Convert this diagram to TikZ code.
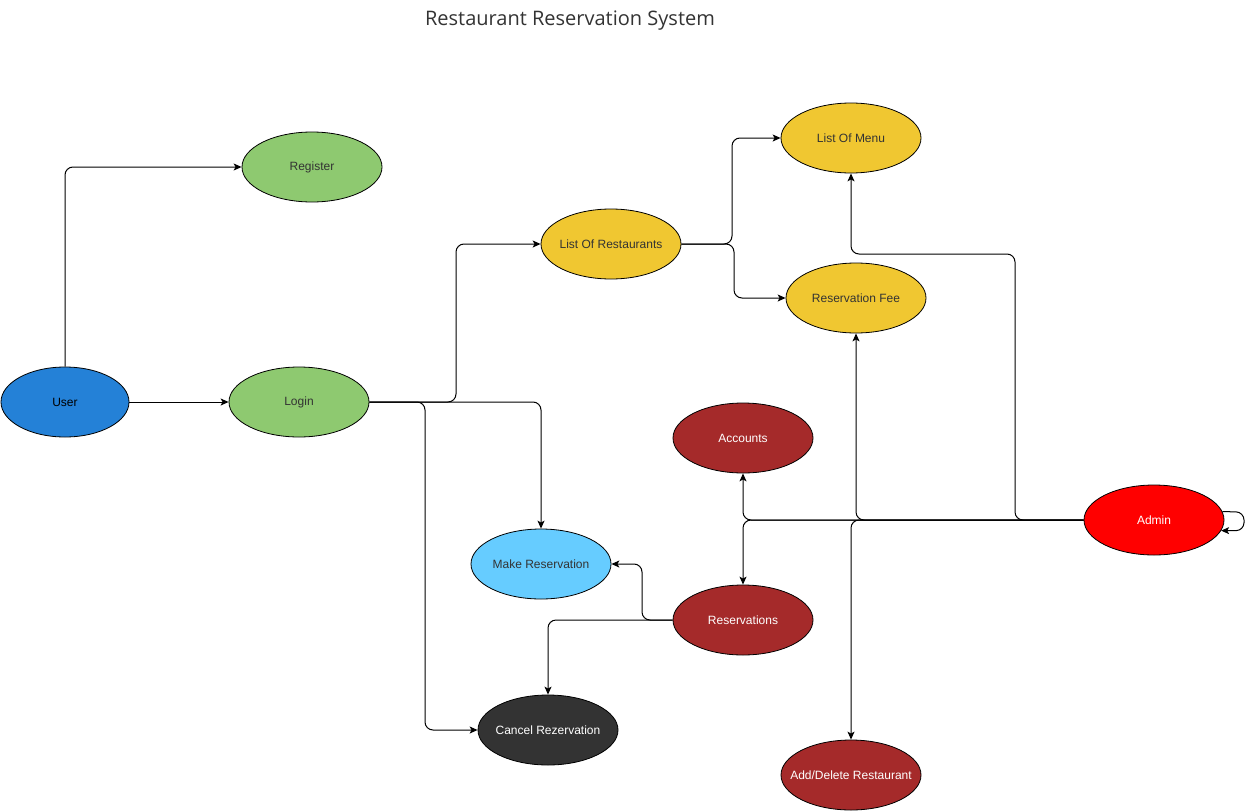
\documentclass[tikz,border=0pt]{standalone}
\usepackage{fontspec}
\setmainfont{Liberation Sans}
\newfontfamily\titlefont{Open Sans}
\usetikzlibrary{shapes.geometric,arrows.meta}
\definecolor{userblue}{HTML}{2481D7}
\definecolor{lgreen}{HTML}{8EC970}
\definecolor{gold}{HTML}{F0C731}
\definecolor{brownred}{HTML}{A52A2A}
\definecolor{lblue}{HTML}{66CCFF}
\definecolor{darkgray}{HTML}{333333}
\definecolor{txtgray}{HTML}{333333}
\newcommand{\ztext}[1]{\makebox[0pt][c]{#1}}
\tikzset{
  uc/.style={ellipse, draw=black, line width=0.8pt, minimum width=140pt, minimum height=70pt, inner sep=0pt,
    font=\fontsize{12}{14}\selectfont, text=txtgray},
  darkuc/.style={uc, text=white},
  conn/.style={draw=black, line width=1pt, rounded corners=8pt, -{Stealth[length=8pt,width=7pt,inset=2pt]}},
}
\begin{document}
\begin{tikzpicture}[x=1pt,y=-1pt]
\path[use as bounding box] (0,0) rectangle (1253,811);
\node[font=\titlefont\fontsize{20}{24}\selectfont, text=txtgray] (title) at (570,21) {Restaurant Reservation System};

\node[uc, fill=userblue, text=black, minimum width=128pt] (user) at (65,402) {\ztext{User}};
\node[uc, fill=lgreen] (register) at (312,167) {\ztext{Register}};
\node[uc, fill=lgreen] (login) at (299,402) {\ztext{Login}};
\node[uc, fill=gold] (lor) at (611,244) {\ztext{List Of Restaurants}};
\node[uc, fill=gold] (menu) at (851,138) {\ztext{List Of Menu}};
\node[uc, fill=gold] (fee) at (856,298) {\ztext{Reservation Fee}};
\node[darkuc, fill=brownred] (accounts) at (743,438) {\ztext{Accounts}};
\node[darkuc, fill=red] (admin) at (1154,520) {\ztext{Admin}};
\node[uc, fill=lblue] (mr) at (541,564) {\ztext{Make Reservation}};
\node[darkuc, fill=brownred] (res) at (743,620) {\ztext{Reservations}};
\node[darkuc, fill=darkgray] (cancel) at (548,730) {\ztext{Cancel Rezervation}};
\node[darkuc, fill=brownred] (add) at (851,775) {\ztext{Add/Delete Restaurant}};

\draw[conn] (user.north) |- (register.west);
\draw[conn] (user.east) -- (login.west);
\draw[conn] (login.east) -- (456,402) |- (lor.west);
\draw[conn] (login.east) -| (mr.north);
\draw[conn] (login.east) -- (425,402) |- (cancel.west);
\draw[conn] (lor.east) -- (732,244) |- (menu.west);
\draw[conn] (lor.east) -- (734,244) |- (fee.west);
\draw[conn] (admin.west) -- (1015,520) -- (1015,254) -| (menu.south);
\draw[conn] (admin.west) -| (fee.south);
\draw[conn] (admin.west) -| (accounts.south);
\draw[conn] (admin.west) -| (res.north);
\draw[conn] (admin.west) -| (add.north);
\draw[conn] (admin.7) -- (1244,512) |- (admin.-9);
\draw[conn] (res.west) -- (642,620) |- (mr.east);
\draw[conn] (res.west) -| (cancel.north);
\end{tikzpicture}
\end{document}
